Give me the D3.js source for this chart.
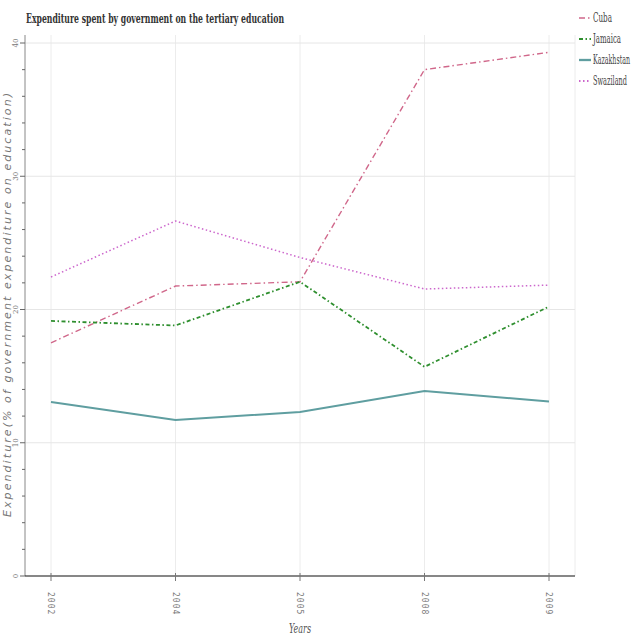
<!DOCTYPE html>
<html><head><meta charset="utf-8">
<script src="https://cdn.jsdelivr.net/npm/d3@7/dist/d3.min.js"></script>
<style>body{margin:0;background:#fff}svg{display:block}</style>
</head><body><svg id="c" width="640" height="640"></svg>
<script>
const years = ["2002","2004","2005","2008","2009"];
const cuba = [17.5, 21.76, 22.08, 38.0, 39.3];
const jamaica = [19.14, 18.8, 22.08, 15.7, 20.22];
const kazakhstan = [13.06, 11.71, 12.31, 13.88, 13.1];
const swaziland = [22.44, 26.64, 23.9, 21.54, 21.83];
const yTicks = [0, 10, 20, 30, 40];
const seriesNames = ["Cuba","Jamaica","Kazakhstan","Swaziland"];

const series = [
  {name:"Cuba", values:cuba, color:"#d0678a", dash:"6,3,1.5,3", width:1.4},
  {name:"Jamaica", values:jamaica, color:"#2f8f2f", dash:"4,2.5,1.5,2.5", width:1.8},
  {name:"Kazakhstan", values:kazakhstan, color:"#5f9ea0", dash:null, width:2},
  {name:"Swaziland", values:swaziland, color:"#cc66cc", dash:"1.5,2.5", width:1.5}
];
const SERIF = "'DejaVu Serif', 'Liberation Serif', serif";

const svg = d3.select("#c");
const L=25, R=575, T=35, B=576;
const x = d3.scalePoint().domain(years).range([51,549]);
const y = d3.scaleLinear().domain([0,40]).range([B,43]);

// grid
const g = svg.append("g");
g.selectAll(".vg").data(years).join("line")
  .attr("x1",d=>x(d)).attr("x2",d=>x(d)).attr("y1",T).attr("y2",B)
  .attr("stroke","#ececec").attr("stroke-width",1);
g.append("line").attr("x1",R).attr("x2",R).attr("y1",T).attr("y2",B).attr("stroke","#ececec");
g.selectAll(".hg").data(yTicks.filter(d=>d>0)).join("line")
  .attr("x1",L).attr("x2",R).attr("y1",d=>y(d)).attr("y2",d=>y(d))
  .attr("stroke","#e6e6e6").attr("stroke-width",1);

// y axis
const ya = svg.append("g").attr("transform",`translate(${L},0)`);
ya.append("line").attr("x1",0).attr("x2",0).attr("y1",T).attr("y2",B).attr("stroke","#888");
const minor = d3.range(0,41,2);
ya.selectAll(".mt").data(minor).join("line")
  .attr("x1",d=>d%10===0?-5:-3).attr("x2",0).attr("y1",d=>y(d)).attr("y2",d=>y(d))
  .attr("stroke","#666");
ya.selectAll(".tl").data(yTicks).join("text")
  .attr("transform",d=>`translate(-7,${y(d)}) rotate(-90)`)
  .attr("text-anchor","middle").attr("font-family",SERIF).attr("font-stretch","condensed")
  .attr("font-size",8).attr("fill","#777").text(d=>d);

// x axis
const xa = svg.append("g");
xa.append("line").attr("x1",L).attr("x2",R).attr("y1",B).attr("y2",B).attr("stroke","#111").attr("stroke-width",1.2);
xa.selectAll(".xt").data(years).join("line")
  .attr("x1",d=>x(d)).attr("x2",d=>x(d)).attr("y1",B-3).attr("y2",B+5).attr("stroke","#777");
xa.selectAll(".xl").data(years).join("text")
  .attr("transform",d=>`translate(${x(d)-3},592) rotate(90)`)
  .attr("text-anchor","start").attr("font-family","DejaVu Sans Mono")
  .attr("font-size",8).attr("letter-spacing",1).attr("fill","#777").text(d=>d);

// lines
const line = d3.line().x((d,i)=>x(years[i])).y(d=>y(d));
series.forEach(s=>{
  svg.append("path").datum(s.values).attr("d",line).attr("fill","none")
    .attr("stroke",s.color).attr("stroke-width",s.width)
    .attr("stroke-dasharray",s.dash);
});

// title
svg.append("text").attr("x",26).attr("y",23).attr("font-family",SERIF)
  .attr("font-weight","bold").attr("font-size",13).attr("fill","#333")
  .attr("textLength",258).attr("lengthAdjust","spacingAndGlyphs")
  .text("Expenditure spent by government on the tertiary education");

// axis labels
svg.append("text").attr("transform","translate(11,305) rotate(-90)")
  .attr("text-anchor","middle").attr("font-family","DejaVu Sans").attr("font-style","italic")
  .attr("font-size",11).attr("fill","#777")
  .attr("textLength",424).attr("lengthAdjust","spacing")
  .text("Expenditure(% of government expenditure on education)");
svg.append("text").attr("x",300).attr("y",633).attr("text-anchor","middle")
  .attr("font-family",SERIF).attr("font-style","italic")
  .attr("font-size",12).attr("fill","#555")
  .attr("textLength",22).attr("lengthAdjust","spacingAndGlyphs").text("Years");

// legend
const lg = svg.append("g");
const legW = [19, 28, 37, 34];
series.forEach((s,i)=>{
  const yy = 18 + i*21;
  lg.append("line").attr("x1",579).attr("x2",591).attr("y1",yy).attr("y2",yy)
    .attr("stroke",s.color).attr("stroke-width",s.width+0.3).attr("stroke-dasharray",s.dash);
  const t = lg.append("text").attr("x",0).attr("y",0).attr("font-family",SERIF)
    .attr("font-size",12).attr("fill","#444").text(seriesNames[i]);
  const w = t.node().getComputedTextLength() || legW[i];
  t.attr("transform",`translate(593,${yy+4}) scale(${legW[i]/w},1)`);
});
</script></body></html>
